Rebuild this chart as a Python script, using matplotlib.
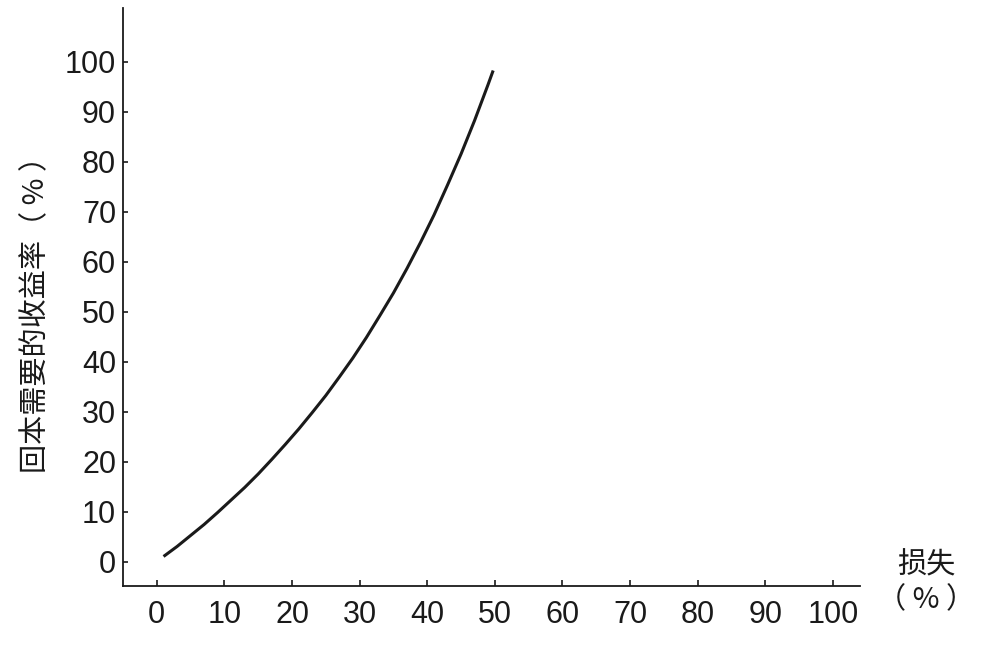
import matplotlib
matplotlib.use("Agg")
import matplotlib.pyplot as plt

plt.rcParams['font.family'] = ['Noto Sans CJK SC', 'DejaVu Sans']

# data
loss_pct = [1, 3, 5, 7, 9, 11, 13, 15, 17, 19, 21, 23, 25, 27, 29, 31, 33, 35,
            37, 39, 41, 43, 45, 47, 49, 49.75]
required_gain_pct = [1.1, 3.1, 5.3, 7.5, 9.9, 12.4, 14.9, 17.6, 20.5, 23.5, 26.6,
                     29.9, 33.3, 37.0, 40.8, 44.9, 49.3, 53.8, 58.7, 63.9, 69.4,
                     75.4, 81.6, 88.3, 95.5, 98.3]
x_ticks = [0, 10, 20, 30, 40, 50, 60, 70, 80, 90, 100]
y_ticks = [0, 10, 20, 30, 40, 50, 60, 70, 80, 90, 100]
y_label = "回本需要的收益率（ % ）"
x_label = "损失\n（ % ）"

fig = plt.figure(figsize=(9.95, 6.5), dpi=100)
ax = fig.add_axes([0.1236, 0.0985, 0.8643 - 0.1236, 0.9877 - 0.0985])

ax.plot(loss_pct, required_gain_pct, color="#1a1a1a", lw=2.2,
        solid_capstyle="butt", solid_joinstyle="round")

ax.set_xlim(-5, 104)
ax.set_ylim(-4.8, 110.8)
ax.set_xticks(x_ticks)
ax.set_yticks(y_ticks)
ax.tick_params(axis="both", direction="in", labelsize=22, color="#1a1a1a",
               labelcolor="#1a1a1a", width=1.2)
ax.tick_params(axis="x", length=4.5, pad=10)
ax.tick_params(axis="y", length=3.8, pad=5)
for lab in ax.get_xticklabels() + ax.get_yticklabels():
    lab.set_fontfamily(['Liberation Sans', 'DejaVu Sans'])

for s in ["top", "right"]:
    ax.spines[s].set_visible(False)
for s in ["left", "bottom"]:
    ax.spines[s].set_linewidth(1.3)
    ax.spines[s].set_color("#1a1a1a")

fig.text(36 / 995, 1 - 307 / 650, y_label, rotation=90, ha="center", va="center",
         fontsize=21, color="#1a1a1a")
fig.text(926 / 995, 1 - 583 / 650, x_label, ha="center", va="center",
         fontsize=21, color="#1a1a1a", linespacing=1.2)

fig.savefig("out.png", dpi=100)
